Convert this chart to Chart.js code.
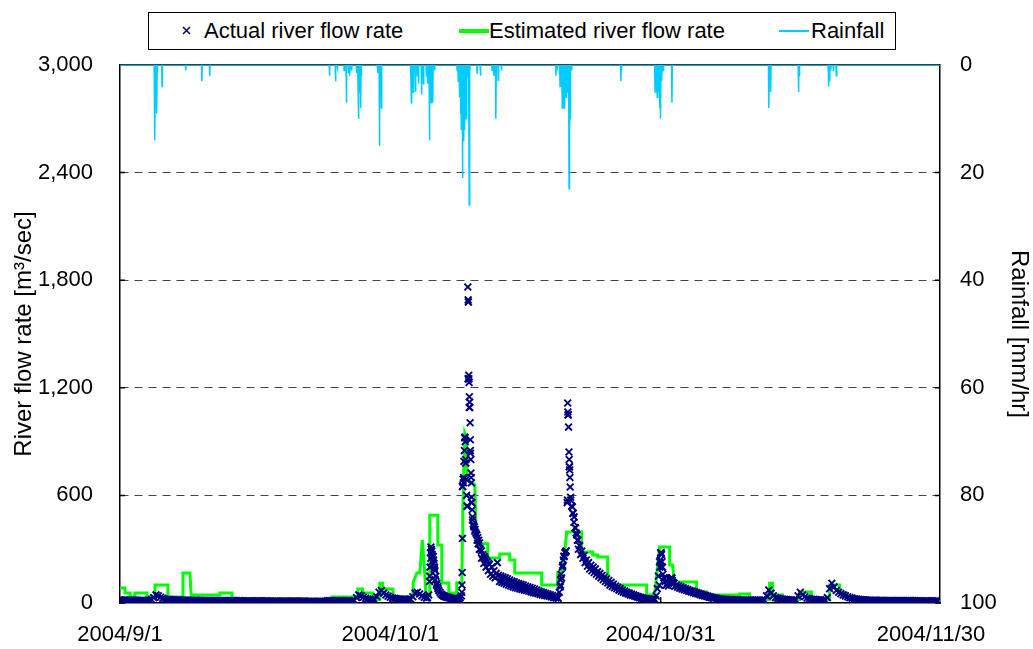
<!DOCTYPE html>
<html>
<head>
<meta charset="utf-8">
<title>River flow rate and rainfall</title>
<script src="https://cdn.jsdelivr.net/npm/chart.js@4.4.0/dist/chart.umd.min.js"></script>
<style>
  body { margin: 0; background: #fff; }
  #wrap { position: relative; width: 1033px; height: 649px; }
  #legend {
    position: absolute; left: 148px; top: 12px; width: 748px; height: 38px;
    box-sizing: border-box; border: 1px solid #000; background: #fff;
    font: 22px "Liberation Sans", Arial, sans-serif; color: #000;
  }
  #legend .item { position: absolute; top: 6px; white-space: nowrap; line-height: 24px; }
  #legend .mark { position: absolute; }
</style>
</head>
<body>
<div id="wrap">
  <canvas id="flowChart" width="1033" height="649"></canvas>
  <div id="legend"></div>
</div>
<script>
// x axis: days from 2004/9/1 0:00
const xTickDays = [0, 30, 60, 90];
const xTickLabels = ["2004/9/1", "2004/10/1", "2004/10/31", "2004/11/30"];

// actual river flow rate [m3/sec], one reading every 6 hours (0:00, 6:00, 12:00, 18:00)
const actualFlow6h = [
  18, 17, 17, 16,   16, 16, 15, 15,   15, 15, 15, 14,   14, 15, 20, 30,
  45, 40, 32, 26,   22, 20, 19, 18,   18, 17, 17, 16,   16, 16, 16, 15,
  15, 15, 15, 15,   15, 14, 14, 14,   14, 14, 14, 14,   14, 13, 13, 13,
  13, 13, 13, 13,   13, 13, 12, 12,   12, 12, 12, 12,   12, 12, 12, 12,
  12, 12, 11, 11,   11, 11, 11, 11,   11, 11, 11, 11,   11, 11, 11, 11,
  11, 11, 11, 10,   10, 10, 10, 10,   10, 10, 10, 10,   12, 14, 13, 12,
  12, 12, 14, 13,   12, 12, 12, 12,   14, 30, 45, 40,   32, 26, 22, 20,
  18, 18, 35, 60,   70, 55, 45, 38,   32, 28, 26, 24,   22, 21, 20, 20,
  20, 22, 35, 55,   60, 50, 40, 32,   28, 45, 250, 260, 130, 90, 60, 45,
  38, 33, 30, 27,   25, 24, 23, 30,   650, 920, 540, 1090, 560, 430, 390, 330,
  300, 270, 250, 230, 215, 200, 180, 165, 155, 150, 145, 140, 135, 128, 122, 118,
  112, 108, 104, 100, 95, 90, 86, 82,  78, 72, 66, 62,   58, 54, 50, 46,
  42, 38, 34, 60,   140, 260, 290, 1050, 590, 500, 420, 350, 320, 290, 265, 240,
  225, 210, 200, 190, 175, 165, 155, 145, 135, 125, 115, 105, 95, 88, 80, 72,
  66, 60, 55, 50,   45, 40, 36, 32,   28, 25, 23, 22,   21, 20, 40, 150,
  280, 160, 120, 110, 130, 140, 110, 100, 95, 90, 85, 80,  75, 70, 66, 62,
  58, 54, 50, 46,   42, 38, 34, 30,   28, 26, 24, 22,   21, 20, 19, 19,
  18, 18, 18, 17,   17, 17, 16, 16,   16, 16, 16, 16,   16, 16, 16, 40,
  72, 55, 40, 30,   26, 24, 22, 20,   19, 18, 18, 17,   17, 40, 60, 45,
  35, 28, 24, 21,   20, 19, 18, 18,   17, 17, 30, 80,   110, 90, 70, 60,
  52, 45, 40, 35,   30, 27, 24, 22,   20, 19, 18, 17,   16, 16, 15, 15,
  15, 15, 15, 14,   14, 14, 14, 14,   14, 14, 13, 13,   13, 13, 13, 13,
  13, 13, 12, 12,   12, 12, 12, 12,   12, 12, 12, 12
];

// readings at 3:00, 9:00, 15:00, 21:00 during the wet period, from 10/5 (day 34) to 11/5 (day 65)
const midStartDay = 34;
const actualFlowMid = [
  30, 150, 230, 190,   100, 70, 50, 40,    35, 31, 28, 26,     24, 23, 22, 40,
  700, 780, 1250, 850, 480, 400, 350, 300, 250, 220, 200, 180,  160, 150, 140, 225,
  120, 115, 110, 105,  100, 95, 90, 85,    82, 78, 75, 72,     70, 66, 62, 58,
  55, 52, 48, 45,      42, 40, 38, 34,     30, 28, 26, 100,    210, 280, 560, 760,
  540, 450, 390, 300,  270, 250, 225, 205, 190, 180, 170, 160,  150, 140, 130, 120,
  112, 100, 92, 85,    80, 72, 66, 60,     55, 50, 45, 42,     38, 34, 30, 27,
  24, 22, 20, 19,      18, 19, 80, 230,    200, 140, 100, 95,  120, 115, 95, 88,
  82, 78, 74, 70,      66, 62, 58, 54,     50, 46, 42, 40,     36, 32, 29, 27
];

// extra hourly readings around the floods (day, m3/sec)
const peakDays = [
  34.35, 34.4, 34.45, 34.5, 34.55, 34.6, 34.65, 34.7, 34.8, 34.85, 34.9, 34.95, 35.05, 35.15, 35.3,
  37.93, 37.95, 37.97, 38.0, 38.04, 38.08, 38.12, 38.17, 38.22, 38.27, 38.32, 38.37, 38.42, 38.47,
  38.55, 38.6, 38.64, 38.66, 38.7, 38.72, 38.74, 38.77, 38.8, 38.82, 38.85, 38.88, 38.9, 38.93,
  38.95, 38.97, 39.0, 39.02, 39.05, 39.08, 39.12, 39.2, 39.3, 39.4, 39.6, 39.7, 39.8, 39.9,
  40.1, 40.4, 40.6, 40.9,
  48.85, 48.9, 48.95, 49.1, 49.2, 49.3, 49.4, 49.5, 49.65, 49.68, 49.7, 49.72, 49.78, 49.82,
  49.85, 49.88, 49.9, 49.93, 49.96, 50.02, 50.2, 50.3, 50.4, 50.55, 50.7, 50.85,
  59.85, 59.9, 59.95, 60.05, 60.1, 60.15, 60.2, 60.4, 61.1, 61.2, 61.3
];
const peakFlow = [
  120, 200, 280, 312, 300, 290, 270, 255, 240, 220, 200, 180, 150, 110, 80,
  60, 100, 170, 360, 650, 690, 670, 790, 850, 925, 900, 800, 690, 600,
  540, 1762, 1690, 1678, 1270, 1250, 1230, 1150, 1120, 1090, 1005, 910, 835, 800,
  725, 700, 670, 590, 560, 520, 463, 440, 424, 410, 380, 365, 350, 335,
  290, 260, 240, 220,
  90, 128, 160, 200, 240, 260, 284, 290, 574, 1115, 1065, 1048, 981, 842,
  800, 760, 742, 700, 647, 574, 535, 500, 480, 418, 380, 351,
  100, 200, 240, 280, 270, 230, 200, 140, 135, 140, 125
];

// estimated river flow rate [m3/sec], corners of the step line (day, value)
const estDays = [
  0, 0.55, 0.55, 1.11, 1.11, 1.66, 1.66, 2.99, 2.99, 3.88, 3.88, 5.32, 5.32, 6.99, 6.99, 7.76, 7.9,
  11.09, 11.09, 12.42, 12.42, 23.51, 23.51, 26.39, 26.39, 26.95, 26.95, 28.06, 28.06, 28.83, 28.83,
  29.17, 29.17, 30.28, 30.35, 32.49, 32.55, 32.94, 33.27, 33.55, 33.82, 33.94, 34.33, 34.38, 35.27,
  35.27, 35.71, 35.71, 36.49, 36.49, 37.37, 37.37, 37.93, 38.0, 38.04, 38.26, 38.43, 38.54, 39.37,
  39.5, 39.6, 40.81, 40.81, 42.14, 42.14, 43.25, 43.25, 43.81, 43.81, 46.8, 46.8, 48.57, 48.57,
  49.02, 49.35, 49.57, 51.24, 51.24, 52.46, 52.46, 53.01, 53.01, 54.12, 54.12, 58.45, 58.45, 59.33,
  59.88, 61.0, 61.0, 61.33, 61.55, 62.1, 62.1, 63.99, 63.99, 65.1, 65.1, 68.76, 68.76, 69.87, 69.87,
  72.09, 72.09, 72.42, 72.42, 73.53, 73.53, 75.41, 75.41, 76.74, 76.74, 78.74, 78.74, 79.85, 79.85,
  80.63, 80.63, 91
];
const estFlow = [
  84, 84, 56, 56, 33, 33, 56, 56, 33, 33, 100, 100, 33, 33, 167, 167, 45,
  45, 56, 56, 15, 15, 33, 33, 78, 78, 56, 56, 20, 20, 110,
  110, 78, 78, 33, 33, 117, 167, 167, 351, 167, 45, 45, 490, 490,
  323, 323, 111, 111, 56, 56, 111, 111, 368, 502, 948, 926, 686, 660,
  446, 330, 330, 251, 251, 273, 273, 240, 240, 167, 167, 100, 100, 167,
  167, 284, 396, 396, 284, 284, 268, 268, 257, 257, 100, 100, 45, 45,
  312, 312, 212, 212, 89, 89, 117, 117, 61, 61, 45, 45, 50, 50, 20,
  20, 110, 110, 45, 45, 20, 20, 61, 61, 20, 20, 100, 100, 56,
  56, 20, 14
];

// rainfall [mm/hr], hours from 2004/9/1 0:00
const rainHours = [
  92, 93, 94, 97, 98, 99, 112, 175, 218, 239,
  558, 574, 579, 597, 603, 609, 612, 617, 630, 634, 635, 637, 641, 643, 686, 691, 694, 696,
  775, 776, 781, 787, 792, 795, 803, 808, 816, 819, 824, 826, 829, 833, 838,
  898, 901, 904, 907, 909, 912, 914, 917, 919, 922, 925, 928, 930, 932,
  951, 960, 991, 996, 1001, 1003, 1008, 1016,
  1161, 1165, 1172, 1175, 1178, 1180, 1183, 1185, 1188, 1191, 1196, 1198, 1200, 1203,
  1334, 1336, 1425, 1427, 1431, 1435, 1438, 1440, 1443, 1447, 1470,
  1728, 1730, 1733, 1807, 1809, 1887, 1890, 1893, 1900, 1908
];
const rainMm = [
  3, 14, 2, 1, 9, 1, 4, 1, 3, 2,
  2, 3, 0.5, 1, 7, 1.5, 2, 1, 1.5, 4, 10, 5, 8, 2, 1.5, 15, 4, 8,
  3, 7, 5, 5, 2, 3.5, 5.5, 3.5, 2, 3.5, 14, 5, 7, 7, 1,
  1, 3, 6, 9, 12, 21, 14, 12, 9, 10, 2, 3, 26, 1,
  1.5, 2, 1, 2, 10, 3, 3, 1,
  2, 0.5, 4, 3, 8, 5, 8, 4, 6, 5, 23, 12, 10, 1,
  3, 1, 5, 2, 6, 5, 8, 10, 3, 1, 7,
  8, 3, 5, 5, 2, 4, 3, 1, 1, 2
];

const actualPoints = actualFlow6h
  .map((v, i) => ({ x: i / 4, y: v }))
  .concat(actualFlowMid.map((v, i) => ({ x: midStartDay + 0.125 + i / 4, y: v })))
  .concat(peakDays.map((d, i) => ({ x: d, y: peakFlow[i] })));

const estPoints = estDays.map((d, i) => ({ x: d, y: estFlow[i] }));

// rain line: zero on the hours before and after each rainy spell
const rainPoints = [{ x: 0, y: 0 }];
rainHours.forEach((h, i) => {
  if (rainHours[i - 1] !== h - 1) rainPoints.push({ x: (h - 1) / 24, y: 0 });
  rainPoints.push({ x: h / 24, y: rainMm[i] });
  if (rainHours[i + 1] !== h + 1) rainPoints.push({ x: (h + 1) / 24, y: 0 });
});
rainPoints.push({ x: 91, y: 0 });

const NAVY = "#000080";
const GREEN = "#00ff00";
const CYAN = "#00ccff";
const FONT = "'Liberation Sans', Arial, sans-serif";

// top border and small inside tick marks
const framePlugin = {
  id: "frame",
  beforeDatasetsDraw(chart) {
    const { ctx, chartArea: a, scales } = chart;
    ctx.save();
    ctx.strokeStyle = "#000";
    ctx.lineWidth = 1.5;
    ctx.beginPath();
    ctx.moveTo(a.left, a.top);
    ctx.lineTo(a.right, a.top);
    scales.y.ticks.forEach((t) => {
      const py = scales.y.getPixelForValue(t.value);
      ctx.moveTo(a.left, py);
      ctx.lineTo(a.left + 5, py);
    });
    scales.y2.ticks.forEach((t) => {
      const py = scales.y2.getPixelForValue(t.value);
      ctx.moveTo(a.right - 5, py);
      ctx.lineTo(a.right, py);
    });
    xTickDays.slice(1, -1).forEach((d) => {
      const px = scales.x.getPixelForValue(d);
      ctx.moveTo(px, a.bottom);
      ctx.lineTo(px, a.bottom - 6);
    });
    ctx.stroke();
    ctx.restore();
  },
};

const config = {
  type: "scatter",
  data: {
    datasets: [
      {
        label: "Actual river flow rate",
        data: actualPoints,
        yAxisID: "y",
        pointStyle: "crossRot",
        pointRadius: 4.8,
        pointBorderWidth: 1.9,
        borderColor: NAVY,
        backgroundColor: NAVY,
        showLine: false,
      },
      {
        label: "Estimated river flow rate",
        data: estPoints,
        yAxisID: "y",
        showLine: true,
        borderColor: GREEN,
        borderWidth: 3,
        pointRadius: 0,
      },
      {
        label: "Rainfall",
        data: rainPoints,
        yAxisID: "y2",
        showLine: true,
        borderColor: CYAN,
        borderWidth: 1.5,
        pointRadius: 0,
      },
    ],
  },
  options: {
    responsive: false,
    animation: false,
    devicePixelRatio: 1,
    layout: { padding: { top: 65, left: 0, right: 0, bottom: 0 } },
    plugins: {
      legend: { display: false },
      tooltip: { enabled: false },
    },
    scales: {
      x: {
        type: "linear",
        min: 0,
        max: 91,
        afterBuildTicks: (scale) => {
          scale.ticks = xTickDays.map((d) => ({ value: d }));
        },
        afterFit: (scale) => {
          scale.height = 46;
        },
        ticks: {
          autoSkip: false,
          maxRotation: 0,
          padding: 19,
          color: "#000",
          font: { family: FONT, size: 22 },
          callback: (v) => xTickLabels[xTickDays.indexOf(v)],
        },
        grid: { display: false, drawTicks: false },
        border: { display: true, color: "#000", width: 1.5 },
      },
      y: {
        position: "left",
        min: 0,
        max: 3000,
        afterFit: (scale) => {
          scale.width = 120;
        },
        ticks: {
          stepSize: 600,
          padding: 27,
          color: "#000",
          font: { family: FONT, size: 22 },
          callback: (v) => v.toLocaleString("en-US"),
        },
        grid: {
          drawTicks: false,
          color: (c) =>
            c.tick && (c.tick.value === 0 || c.tick.value === 3000) ? "rgba(0,0,0,0)" : "#444",
          lineWidth: 1,
        },
        border: { display: true, color: "#000", width: 1.5, dash: [8, 6] },
        title: {
          display: true,
          text: "River flow rate [m³/sec]",
          color: "#000",
          font: { family: FONT, size: 24 },
          padding: { top: 10, bottom: 0 },
        },
      },
      y2: {
        position: "right",
        min: 0,
        max: 100,
        reverse: true,
        afterFit: (scale) => {
          scale.width = 93;
        },
        ticks: {
          stepSize: 20,
          padding: 20,
          color: "#000",
          font: { family: FONT, size: 22 },
        },
        grid: { drawOnChartArea: false, drawTicks: false },
        border: { display: true, color: "#000", width: 1.5 },
        title: {
          display: true,
          text: "Rainfall [mm/hr]",
          color: "#000",
          font: { family: FONT, size: 24 },
          padding: { top: 0, bottom: 0 },
        },
      },
    },
  },
  plugins: [framePlugin],
};

const myChart = new Chart(document.getElementById("flowChart"), config);

// legend box drawn in html
const legendItems = [
  { text: config.data.datasets[0].label, left: 55, mark: "cross" },
  { text: config.data.datasets[1].label, left: 340, mark: "line", color: GREEN, width: 4, lineLeft: 310 },
  { text: config.data.datasets[2].label, left: 662, mark: "line", color: CYAN, width: 2, lineLeft: 630 },
];
const legend = document.getElementById("legend");
legendItems.forEach((item) => {
  const span = document.createElement("span");
  span.className = "item";
  span.style.left = item.left + "px";
  span.textContent = item.text;
  legend.appendChild(span);
  const mark = document.createElement("span");
  mark.className = "mark";
  if (item.mark === "cross") {
    mark.innerHTML =
      '<svg width="9" height="9"><path d="M1 1L8 8M8 1L1 8" stroke="' + NAVY + '" stroke-width="1.5"/></svg>';
    mark.style.left = "33px";
    mark.style.top = "13px";
    mark.style.lineHeight = "0";
  } else {
    mark.style.left = item.lineLeft + "px";
    mark.style.top = 18 - item.width / 2 + "px";
    mark.style.width = "30px";
    mark.style.height = item.width + "px";
    mark.style.background = item.color;
  }
  legend.appendChild(mark);
});
</script>
</body>
</html>
